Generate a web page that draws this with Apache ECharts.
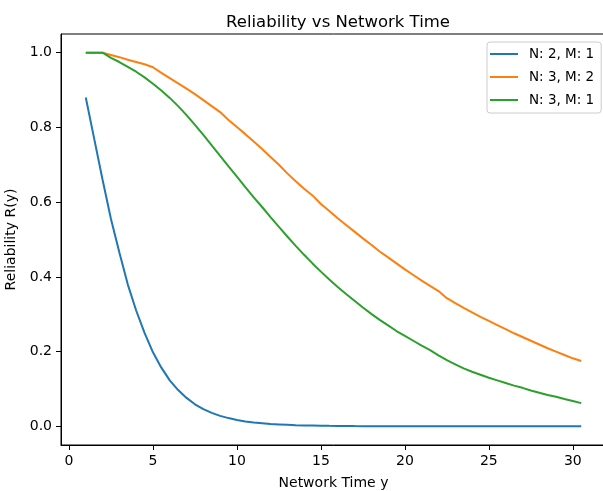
<!DOCTYPE html>
<html>
<head>
  <meta charset="UTF-8">
  <title>Reliability vs Network Time</title>
  <script src="https://cdn.jsdelivr.net/npm/echarts@6/dist/echarts.min.js"></script>
  <style>
    html, body { margin: 0; padding: 0; background: #fff; overflow: hidden; }
    /* the figure is wider than the window: its right spine falls just off the picture */
    #main { width: 640px; height: 491px; }
  </style>
</head>
<body>
  <div id="main"></div>
  <script type="text/javascript">
    // network time y, step 0.5
    var times = [1, 1.5, 2, 2.5, 3, 3.5, 4, 4.5, 5, 5.5, 6, 6.5, 7, 7.5, 8, 8.5, 9, 9.5, 10, 10.5,
      11, 11.5, 12, 12.5, 13, 13.5, 14, 14.5, 15, 15.5, 16, 16.5, 17, 17.5, 18, 18.5, 19, 19.5, 20, 20.5,
      21, 21.5, 22, 22.5, 23, 23.5, 24, 24.5, 25, 25.5, 26, 26.5, 27, 27.5, 28, 28.5, 29, 29.5, 30, 30.5];

    var seriesNames = ['N: 2, M: 1', 'N: 3, M: 2', 'N: 3, M: 1'];

    var rN2M1 = [0.88, 0.77, 0.66, 0.555, 0.465, 0.38, 0.31, 0.25, 0.198, 0.157, 0.123, 0.097, 0.076, 0.059, 0.046, 0.036, 0.028, 0.022, 0.017, 0.013,
      0.010, 0.008, 0.006, 0.005, 0.004, 0.003, 0.0025, 0.002, 0.0015, 0.0012, 0.001, 0.0008, 0.0006, 0.0005, 0.0004, 0.0003, 0.0003, 0.0002, 0.0002, 0.0001,
      0.0001, 0.0001, 0.0001, 0, 0, 0, 0, 0, 0, 0, 0, 0, 0, 0, 0, 0, 0, 0, 0, 0];

    var rN3M2 = [1.0, 1.0, 1.0, 0.994, 0.988, 0.981, 0.975, 0.969, 0.961, 0.946, 0.932, 0.918, 0.904, 0.889, 0.873, 0.857, 0.841, 0.82, 0.801, 0.782,
      0.762, 0.742, 0.721, 0.700, 0.677, 0.656, 0.636, 0.618, 0.595, 0.576, 0.557, 0.539, 0.521, 0.503, 0.486, 0.468, 0.452, 0.436, 0.420, 0.405,
      0.390, 0.376, 0.362, 0.343, 0.330, 0.317, 0.305, 0.293, 0.282, 0.271, 0.260, 0.249, 0.239, 0.229, 0.219, 0.209, 0.200, 0.191, 0.182, 0.175];

    var rN3M1 = [1.0, 1.0, 1.0, 0.986, 0.975, 0.962, 0.949, 0.934, 0.917, 0.899, 0.879, 0.857, 0.833, 0.807, 0.780, 0.752, 0.724, 0.696, 0.668, 0.640,
      0.613, 0.587, 0.560, 0.534, 0.508, 0.483, 0.459, 0.436, 0.414, 0.393, 0.373, 0.354, 0.336, 0.318, 0.301, 0.285, 0.270, 0.255, 0.242, 0.229,
      0.216, 0.204, 0.190, 0.177, 0.166, 0.155, 0.146, 0.138, 0.130, 0.123, 0.116, 0.109, 0.103, 0.096, 0.090, 0.084, 0.079, 0.073, 0.068, 0.062];

    var xTicks = [0, 5, 10, 15, 20, 25, 30];
    var yTicks = [0, 0.2, 0.4, 0.6, 0.8, 1.0];

    var colors = ['#1f77b4', '#ff7f0e', '#2ca02c'];
    var font = 'DejaVu Sans';

    function pairs(ys) {
      var out = [];
      for (var i = 0; i < times.length; i++) {
        out.push([times[i], ys[i]]);
      }
      return out;
    }

    var myChart = echarts.init(document.getElementById('main'));

    var lines = [rN2M1, rN3M2, rN3M1].map(function (ys, i) {
      return {
        name: seriesNames[i],
        type: 'line',
        data: pairs(ys),
        symbol: 'none',
        color: colors[i],
        lineStyle: { width: 2, color: colors[i] }
      };
    });

    var option = {
      animation: false,
      title: {
        text: 'Reliability vs Network Time',
        left: 333,
        textAlign: 'center',
        top: 9,
        textStyle: { fontFamily: font, fontSize: 16.5, fontWeight: 'normal', color: '#000' }
      },
      legend: {
        orient: 'vertical',
        left: 487,
        top: 42,
        padding: [4, 7, 5, 3],
        icon: 'rect',
        itemWidth: 28,
        itemHeight: 2,
        itemGap: 7,
        borderColor: '#cccccc',
        borderWidth: 1,
        borderRadius: 3,
        backgroundColor: '#fff',
        textStyle: { fontFamily: font, fontSize: 13.5, color: '#000', padding: [0, 0, 0, 6], lineHeight: 16 },
        data: seriesNames
      },
      grid: {
        left: 61,
        right: 34,
        top: 34,
        bottom: 46,
        outerBoundsMode: 'none',
        containLabel: false,
        show: true,
        borderColor: '#000',
        borderWidth: 1
      },
      xAxis: {
        type: 'value',
        min: -0.475,
        max: 31.975,
        name: 'Network Time y',
        nameLocation: 'middle',
        nameGap: 31,
        nameTextStyle: { fontFamily: font, fontSize: 14, color: '#000' },
        axisLine: { show: true, onZero: false, lineStyle: { color: '#000', width: 1 } },
        axisTick: { show: true, inside: false, length: 5, lineStyle: { color: '#000' }, customValues: xTicks },
        axisLabel: { fontFamily: font, fontSize: 14, color: '#000', margin: 9, customValues: xTicks },
        splitLine: { show: false }
      },
      yAxis: {
        type: 'value',
        min: -0.05,
        max: 1.05,
        name: 'Reliability R(y)',
        nameLocation: 'middle',
        nameGap: 37,
        nameTextStyle: { fontFamily: font, fontSize: 14, color: '#000' },
        axisLine: { show: true, onZero: false, lineStyle: { color: '#000', width: 1 } },
        axisTick: { show: true, inside: false, length: 5, lineStyle: { color: '#000' }, customValues: yTicks },
        axisLabel: {
          fontFamily: font, fontSize: 14, color: '#000', margin: 9, customValues: yTicks,
          formatter: function (v) { return v.toFixed(1); }
        },
        splitLine: { show: false }
      },
      series: lines
    };

    myChart.setOption(option);
  </script>
</body>
</html>
